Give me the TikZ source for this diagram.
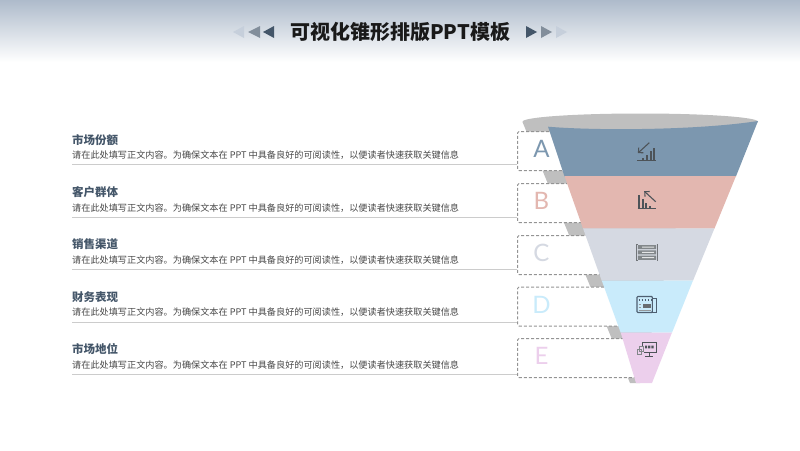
\documentclass[tikz,border=0pt]{standalone}
\usepackage{fontspec}
\usetikzlibrary{arrows.meta}
\setmainfont{Lato}
\newfontfamily\cjk{Noto Sans CJK SC}
\newcommand{\fwcomma}{\symbol{"FF0C}}
\definecolor{bandblue}{HTML}{7C97AF}
\definecolor{bandrose}{HTML}{E3B7B0}
\definecolor{bandgrey}{HTML}{D5D9E2}
\definecolor{bandsky}{HTML}{C9EBFB}
\definecolor{bandlilac}{HTML}{ECCFEC}
\definecolor{backcone}{HTML}{BFBFBF}
\definecolor{headtop}{HTML}{AEBBCB}
\definecolor{headink}{HTML}{2F4358}
\definecolor{iconink}{HTML}{4D5358}
\begin{document}
\begin{tikzpicture}[x=1pt, y=-1pt,
    letterbox/.style={draw=black!42, dash pattern=on 3pt off 2pt, fill=white, rounded corners=1.5pt, line width=1pt, minimum width=128pt, minimum height=39pt, inner sep=0pt, anchor=west},
    letter/.style={font=\fontsize{24}{24}\selectfont, inner sep=0pt},
    headtext/.style={font=\cjk\bfseries\fontsize{11.5}{12}\selectfont, text=headink!90, anchor=west, inner sep=0pt},
    bodytext/.style={font=\cjk\fontsize{9.15}{10}\selectfont, text=black!72, anchor=west, inner sep=0pt},
    ruleline/.style={draw=black!20, line width=1pt},
    icon/.style={draw=iconink, line width=1.1pt},
    arrowmark/.style={fill=#1, draw=none}]
    \useasboundingbox (0,0) rectangle (800,450);

    % header band
    \shade[top color=headtop, bottom color=white] (0,0) rectangle (800,62);
    \node[font=\cjk\bfseries\fontsize{20}{20}\selectfont, text=black!90, inner sep=0pt] (titletext) at (400,31.5) {可视化锥形排版PPT模板};

    % arrow marks beside the title
    \fill[arrowmark=headtop!70] (233,32) -- (244,26) -- (244,38) -- cycle;
    \fill[arrowmark=headink!60] (248,32) -- (260,26) -- (260,38) -- cycle;
    \fill[arrowmark=headink!90] (263,32) -- (274,26) -- (274,38) -- cycle;
    \fill[arrowmark=headink!90] (537,32) -- (526,26) -- (526,38) -- cycle;
    \fill[arrowmark=headink!60] (552,32) -- (541,26) -- (541,38) -- cycle;
    \fill[arrowmark=headtop!70] (567,32) -- (556,26) -- (556,38) -- cycle;

    % back of the cone
    \fill[backcone] (640.25,121.7) ellipse[x radius=117.75, y radius=8.2];
    \fill[backcone] (522.5,122) -- (700,122) -- (640,383) -- (630,383) -- cycle;

    % rows
    \foreach \name/\ybox/\yhead/\ybody/\yrule/\ltr/\col/\head in {
        A/151/140/155.5/164.5/A/bandblue/市场份额,
        B/203/192/208.5/217/B/bandrose/客户群体,
        C/255/244.5/260.5/269/C/bandgrey/销售渠道,
        D/306.5/297.5/312.5/322/D/bandsky/财务表现,
        E/358/349.5/365/374/E/bandlilac/市场地位}{
        \node[letterbox] (box\name) at (517,\ybox) {};
        \node[letter, text=\col] (letter\name) at (541.5,\ybox-2) {\ltr};
        \node[headtext] (head\name) at (72,\yhead) {\head};
        \node[bodytext] (body\name) at (72,\ybody) {请在此处填写正文内容。为确保文本在 PPT 中具备良好的可阅读性\fwcomma 以便读者快速获取关键信息};
        \coordinate (rule\name) at (72,\yrule);
        \draw[ruleline] (rule\name) -- (rule\name -| box\name.west);
    }

    % front of the cone
    \fill[bandblue] (548,126.7) .. controls (600,131) and (700,130) .. (758,121) -- (736,176.3) -- (564.5,176.3) -- cycle;
    \fill[bandrose] (564.5,176) -- (736,176) -- (714.5,228.5) -- (583,228.5) -- cycle;
    \fill[bandgrey] (583,228.3) -- (714.5,228.3) -- (693,280.7) -- (601.7,280.7) -- cycle;
    \fill[bandsky] (601.7,280.5) -- (693,280.5) -- (672,332.7) -- (620.7,332.7) -- cycle;
    \fill[bandlilac] (620.7,332.5) -- (672,332.5) -- (652,383) -- (636,383) -- cycle;

    % icon A, falling bars
    \draw[icon] (637.3,160.5) -- (656,160.5);
    \draw[icon, line width=1.8pt] (643.3,160) -- ++(0,-2) (647.3,160) -- ++(0,-5) (650.7,160) -- ++(0,-9) (654.3,160) -- ++(0,-12);
    \draw[icon, -{Straight Barb[length=3.5pt,width=7pt]}] (649.3,142.7) -- (637.9,153.1);

    % icon B, rising arrow
    \draw[icon] (637.7,208.8) -- (656,208.8);
    \draw[icon, line width=1.8pt] (639.3,208.5) -- ++(0,-13.5) (642.7,208.5) -- ++(0,-9.5) (646,208.5) -- ++(0,-5.5) (650,208.5) -- ++(0,-2.5);
    \draw[icon, -{Straight Barb[length=3.5pt,width=7pt]}] (655.7,201.7) -- (644.2,191.2);

    % icon C, rack
    \draw[icon, draw=iconink!80, line width=0.9pt] (637.5,244.5) -- (636.3,244.5) -- (636.3,260.3) -- (637.5,260.3) (656.5,244.5) -- (657.7,244.5) -- (657.7,260.3) -- (656.5,260.3);
    \fill[iconink!70] (637.8,245) rectangle (656.2,249.2) (637.8,250.4) rectangle (656.2,254.4) (637.8,255.6) rectangle (656.2,259.8);
    \fill[white!85!iconink] (642,246.5) rectangle (654,247.6) (642,251.8) rectangle (654,252.9) (642,257) rectangle (654,258.1);

    % icon D, newspaper
    \draw[icon, draw=headink!85, rounded corners=0.8pt] (637,296.5) rectangle (652.3,312.5);
    \draw[icon, draw=headink!85] (652.3,298.5) -- (656.5,298.5) -- (656.5,312.5) -- (652.3,312.5);
    \fill[iconink!85] (642.5,304) rectangle (651,308);
    \draw[icon, draw=headink!85, dotted, line width=1.4pt] (638.5,299.8) -- (651,299.8);
    \draw[icon, draw=iconink!60, line width=0.7pt] (638.5,304.5) -- (641,304.5) (638.5,307) -- (641,307) (638.5,310) -- (651,310);

    % icon E, monitor and pages
    \draw[icon, line width=0.9pt] (642,342) rectangle (656,352) (649,352) -- (649,356) (645,356.3) -- (653,356.3);
    \fill[iconink] (645,345.5) rectangle (647.2,348.3) (648.2,345.5) rectangle (650.4,348.3) (651.4,345.5) rectangle (653.6,348.3);
    \fill[bandlilac] (636.8,347) rectangle (643.5,356.5);
    \draw[icon, draw=iconink!70, line width=0.8pt] (637.3,349) rectangle (641.5,354) (639.5,346.5) rectangle (643.5,351.5);
\end{tikzpicture}
\end{document}
